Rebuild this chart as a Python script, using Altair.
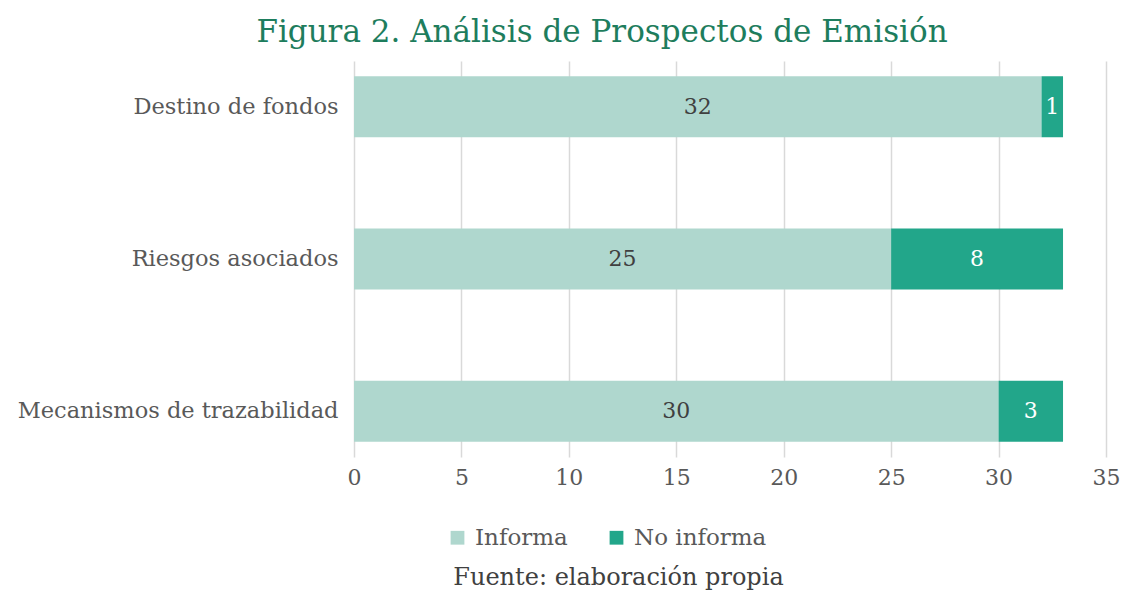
import altair as alt
import pandas as pd

categories = ["Destino de fondos", "Riesgos asociados", "Mecanismos de trazabilidad"]
informa = [32, 25, 30]
no_informa = [1, 8, 3]
series = ["Informa", "No informa"]
x_ticks = [0, 5, 10, 15, 20, 25, 30, 35]

rows = []
for c, a, b in zip(categories, informa, no_informa):
    rows.append({"cat": c, "serie": "Informa", "v": a, "start": 0, "end": a, "mid": a / 2, "ord": 0})
    rows.append({"cat": c, "serie": "No informa", "v": b, "start": a, "end": a + b, "mid": a + b / 2, "ord": 1})
df = pd.DataFrame(rows)

FONT = "DejaVu Serif"
light = "#afd7ce"
dark = "#22a68a"

y = alt.Y("cat:N", sort=categories, title=None,
          scale=alt.Scale(paddingInner=0.6, paddingOuter=0.1),
          axis=alt.Axis(labelFontSize=22.5, labelColor="#595959", labelFont=FONT, labelLimit=0,
                        ticks=False, domain=False, labelPadding=16))
x = alt.X("start:Q", title="Fuente: elaboración propia",
          scale=alt.Scale(domain=[0, 35], nice=False),
          axis=alt.Axis(values=x_ticks, labelFontSize=22, labelColor="#595959", labelFont=FONT,
                        labelFlush=False,
                        ticks=False, domain=False, gridColor="#d9d9d9", gridWidth=1.5,
                        labelPadding=10, titleFont=FONT, titleFontSize=24, titleFontWeight="normal",
                        titleColor="#404040", titleX=264, titleY=108))

bars = alt.Chart(df).mark_bar().encode(
    x=x, x2="end:Q", y=y,
    color=alt.Color("serie:N", scale=alt.Scale(domain=series, range=[light, dark]),
                    legend=alt.Legend(title=None, orient="none", direction="horizontal",
                                      legendX=92, legendY=465, labelFont=FONT, labelFontSize=23,
                                      labelColor="#595959", symbolType="square", symbolSize=190,
                                      symbolStrokeWidth=0, columnPadding=37, labelOffset=6)),
    order="ord:Q",
)

txt = alt.Chart(df).mark_text(font=FONT, fontSize=22).encode(
    x=alt.X("mid:Q"), y=alt.Y("cat:N", sort=categories),
    text="v:Q",
    color=alt.Color("serie:N", scale=alt.Scale(domain=series, range=["#404040", "#ffffff"]), legend=None),
)

chart = alt.layer(bars, txt).resolve_scale(color="independent").properties(
    width=752, height=396,
    autosize=alt.AutoSizeParams(type="none"),
    padding={"left": 354, "top": 61, "right": 19, "bottom": 137},
    background="white",
    title=alt.TitleParams("Figura 2. Análisis de Prospectos de Emisión", font=FONT, fontSize=31,
                          fontWeight="normal", color="#1e7d5d", dx=-128, offset=12),
).configure_view(stroke="transparent", strokeWidth=0)

chart.save("out.html", embed_options={"renderer": "svg", "actions": False})
